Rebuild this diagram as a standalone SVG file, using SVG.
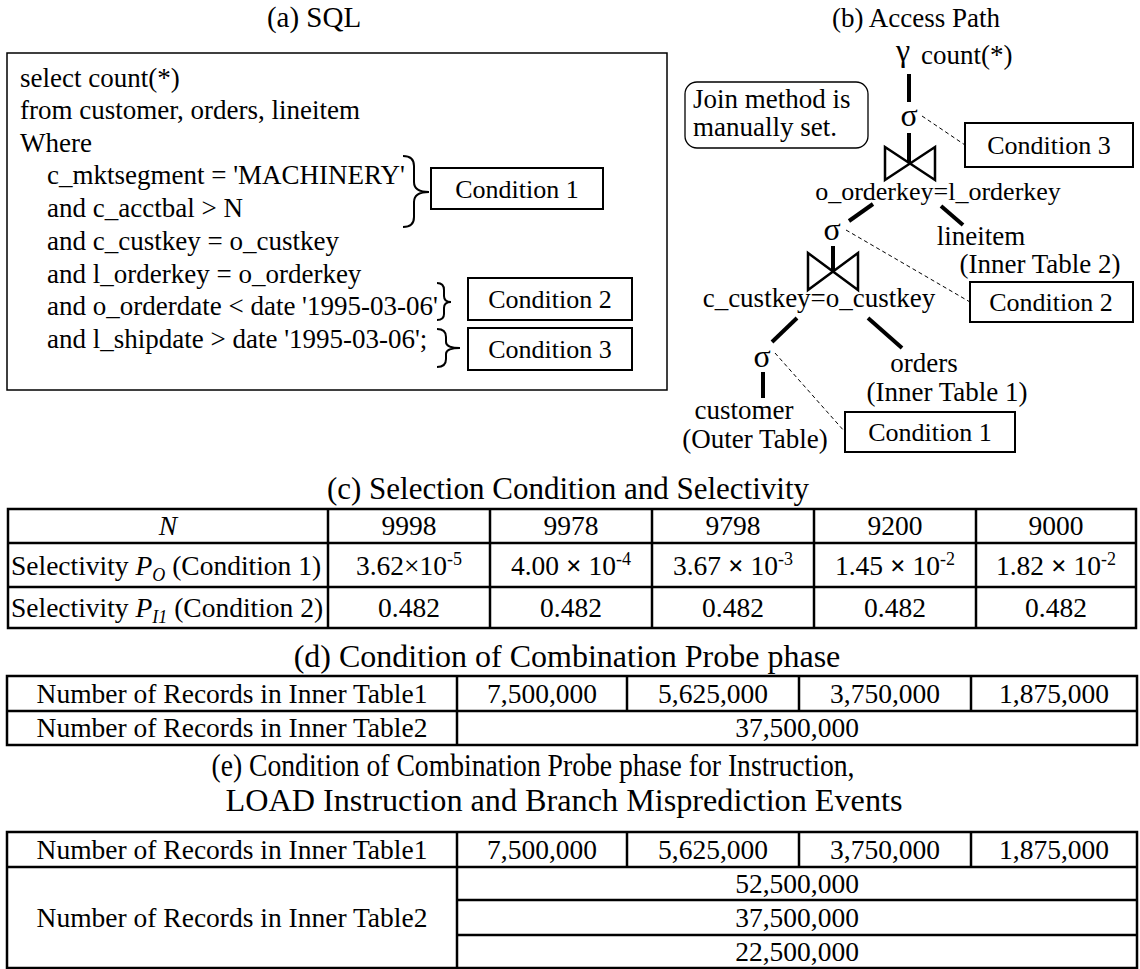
<svg xmlns="http://www.w3.org/2000/svg" width="1140" height="969" viewBox="0 0 1140 969" font-family="'Liberation Serif', 'DejaVu Serif', serif">
  <style>
    text { font-family: 'Liberation Serif', 'DejaVu Serif', serif; fill: #000; }
    .title { text-anchor: middle; }
    .sql { font-size: 27px; }
    .lbl { font-size: 27px; }
    .mid { text-anchor: middle; }
    .cond { font-size: 26px; text-anchor: middle; }
    .cell { font-size: 27.5px; text-anchor: middle; }
    .rowhead { font-size: 27.5px; }
    .box { fill: #fff; stroke: #000; stroke-width: 2; }
    .frame { fill: none; stroke: #000; stroke-width: 1.5; }
    .brace { fill: none; stroke: #000; stroke-width: 2; }
    .edge { stroke: #000; stroke-width: 4; fill: none; }
    .dash { stroke: #000; stroke-width: 1; stroke-dasharray: 4 3; fill: none; }
    .join { fill: none; stroke: #000; stroke-width: 2.5; stroke-linejoin: miter; }
    .grid { stroke: #000; stroke-width: 2.5; fill: none; }
    .it { font-style: italic; }
    .x { font-weight: bold; }
    .sub { font-size: 18px; font-style: italic; }
    .sup { font-size: 18px; }
  </style>

  <!-- section titles -->
  <g id="titles">
    <text class="title" x="314" y="27" style="font-size:29px">(a) SQL</text>
    <text class="title" x="916" y="27" style="font-size:27px">(b) Access Path</text>
    <text class="title" x="568" y="499" style="font-size:31px">(c) Selection Condition and Selectivity</text>
    <text class="title" x="567" y="667" style="font-size:32px">(d) Condition of Combination Probe phase</text>
    <text class="title" x="533" y="776" style="font-size:31px" textLength="643" lengthAdjust="spacingAndGlyphs">(e) Condition of Combination Probe phase for Instruction,</text>
    <text class="title" x="564" y="811" style="font-size:31px" textLength="677" lengthAdjust="spacingAndGlyphs">LOAD Instruction and Branch Misprediction Events</text>
  </g>

  <!-- (a) query text -->
  <g id="sql-query">
    <rect class="frame" x="7" y="53" width="660" height="337"/>
    <text class="sql" x="20" y="87">select count(*)</text>
    <text class="sql" x="20" y="119">from customer, orders, lineitem</text>
    <text class="sql" x="20" y="152">Where</text>
    <text class="sql" x="47" y="184">c_mktsegment = 'MACHINERY'</text>
    <text class="sql" x="47" y="217">and c_acctbal &gt; N</text>
    <text class="sql" x="47" y="250">and c_custkey = o_custkey</text>
    <text class="sql" x="47" y="283">and l_orderkey = o_orderkey</text>
    <text class="sql" x="47" y="315">and o_orderdate &lt; date '1995-03-06'</text>
    <text class="sql" x="47" y="348">and l_shipdate &gt; date '1995-03-06';</text>
    <path class="brace" d="M403,156 Q414,156 414,166 L414,182 Q414,192 429,192 Q414,192 414,202 L414,217 Q414,227 403,227"/>
    <path class="brace" d="M437,283 Q444,283 444,290 L444,296 Q444,302 451,302 Q444,302 444,308 L444,314 Q444,320 437,320"/>
    <path class="brace" d="M437,329 Q446,329 446,337 L446,342 Q446,348 460,348 Q446,348 446,354 L446,359 Q446,367 437,367"/>
  </g>
  <g id="sql-cond1">
    <rect class="box" x="431" y="168" width="172" height="41"/>
    <text class="cond" x="517" y="198">Condition 1</text>
  </g>
  <g id="sql-cond2">
    <rect class="box" x="468" y="278" width="164" height="42"/>
    <text class="cond" x="550" y="308">Condition 2</text>
  </g>
  <g id="sql-cond3">
    <rect class="box" x="468" y="328" width="164" height="42"/>
    <text class="cond" x="550" y="358">Condition 3</text>
  </g>

  <!-- (b) plan tree connectors -->
  <g id="connectors">
    <line class="edge" x1="909" y1="74" x2="909" y2="102"/>
    <line class="edge" x1="909" y1="133" x2="909" y2="163"/>
    <line class="edge" x1="873" y1="204" x2="849" y2="221"/>
    <line class="edge" x1="941" y1="206" x2="963" y2="225"/>
    <line class="edge" x1="833" y1="246" x2="833" y2="272"/>
    <line class="edge" x1="797" y1="318" x2="772" y2="342"/>
    <line class="edge" x1="868" y1="318" x2="902" y2="348"/>
    <line class="edge" x1="763" y1="372" x2="763" y2="398"/>
    <line class="dash" x1="922" y1="116" x2="965" y2="145"/>
    <line class="dash" x1="846" y1="230" x2="970" y2="302"/>
    <line class="dash" x1="775" y1="353" x2="845" y2="432"/>
  </g>

  <!-- (b) plan tree nodes -->
  <g id="aggregate">
    <text class="mid" x="903" y="61" style="font-size:32px">γ</text>
    <text class="lbl" x="921" y="64">count(*)</text>
  </g>
  <g id="note">
    <rect x="685" y="82" width="183" height="66" rx="12" ry="12" fill="#fff" stroke="#000" stroke-width="1.3"/>
    <text class="lbl" x="693" y="108">Join method is</text>
    <text class="lbl" x="693" y="136">manually set.</text>
  </g>
  <g id="select-top">
    <text class="mid" x="909" y="126" style="font-size:32px">σ</text>
  </g>
  <g id="join-orderkey">
    <path class="join" d="M885,147 L935,180 L935,147 L885,180 Z"/>
    <text class="mid" x="938" y="200" style="font-size:26px">o_orderkey=l_orderkey</text>
  </g>
  <g id="lineitem">
    <text class="lbl mid" x="981" y="245">lineitem</text>
    <text class="lbl mid" x="1040" y="273">(Inner Table 2)</text>
  </g>
  <g id="select-mid">
    <text class="mid" x="832" y="240" style="font-size:32px">σ</text>
  </g>
  <g id="join-custkey">
    <path class="join" d="M808,253 L858,290 L858,253 L808,290 Z"/>
    <text class="lbl mid" x="819" y="307">c_custkey=o_custkey</text>
  </g>
  <g id="select-low">
    <text class="mid" x="762" y="367" style="font-size:32px">σ</text>
  </g>
  <g id="orders">
    <text class="lbl mid" x="924" y="372">orders</text>
    <text class="lbl mid" x="947" y="401">(Inner Table 1)</text>
  </g>
  <g id="customer">
    <text class="lbl mid" x="744" y="419">customer</text>
    <text class="lbl mid" x="755" y="448">(Outer Table)</text>
  </g>
  <g id="plan-cond3">
    <rect class="box" x="965" y="123" width="168" height="44"/>
    <text class="cond" x="1049" y="154">Condition 3</text>
  </g>
  <g id="plan-cond2">
    <rect class="box" x="970" y="282" width="163" height="40"/>
    <text class="cond" x="1051" y="311">Condition 2</text>
  </g>
  <g id="plan-cond1">
    <rect class="box" x="845" y="412" width="170" height="40"/>
    <text class="cond" x="930" y="441">Condition 1</text>
  </g>

  <!-- (c) selectivity table -->
  <g id="table-c">
    <rect class="grid" x="8" y="509" width="1128" height="119"/>
    <line class="grid" x1="8" y1="543" x2="1136" y2="543"/>
    <line class="grid" x1="8" y1="587" x2="1136" y2="587"/>
    <line class="grid" x1="328" y1="509" x2="328" y2="628"/>
    <line class="grid" x1="490" y1="509" x2="490" y2="628"/>
    <line class="grid" x1="652" y1="509" x2="652" y2="628"/>
    <line class="grid" x1="814" y1="509" x2="814" y2="628"/>
    <line class="grid" x1="976" y1="509" x2="976" y2="628"/>
    <text class="cell it" x="168" y="535">N</text>
    <text class="cell" x="409" y="535">9998</text>
    <text class="cell" x="571" y="535">9978</text>
    <text class="cell" x="733" y="535">9798</text>
    <text class="cell" x="895" y="535">9200</text>
    <text class="cell" x="1056" y="535">9000</text>
    <text class="rowhead" x="11" y="575">Selectivity <tspan class="it">P</tspan><tspan class="sub" dy="6">O</tspan><tspan dy="-6"> (Condition 1)</tspan></text>
    <text class="cell" x="409" y="575">3.62×10<tspan class="sup" dy="-10">-5</tspan></text>
    <text class="cell" x="571" y="575">4.00 <tspan class="x">×</tspan> 10<tspan class="sup" dy="-10">-4</tspan></text>
    <text class="cell" x="733" y="575">3.67 <tspan class="x">×</tspan> 10<tspan class="sup" dy="-10">-3</tspan></text>
    <text class="cell" x="895" y="575">1.45 <tspan class="x">×</tspan> 10<tspan class="sup" dy="-10">-2</tspan></text>
    <text class="cell" x="1056" y="575">1.82 <tspan class="x">×</tspan> 10<tspan class="sup" dy="-10">-2</tspan></text>
    <text class="rowhead" x="11" y="617">Selectivity <tspan class="it">P</tspan><tspan class="sub" dy="6">I1</tspan><tspan dy="-6"> (Condition 2)</tspan></text>
    <text class="cell" x="409" y="617">0.482</text>
    <text class="cell" x="571" y="617">0.482</text>
    <text class="cell" x="733" y="617">0.482</text>
    <text class="cell" x="895" y="617">0.482</text>
    <text class="cell" x="1056" y="617">0.482</text>
  </g>

  <!-- (d) probe-phase table -->
  <g id="table-d">
    <rect class="grid" x="7" y="676" width="1130" height="69"/>
    <line class="grid" x1="7" y1="711" x2="1137" y2="711"/>
    <line class="grid" x1="457" y1="676" x2="457" y2="745"/>
    <line class="grid" x1="627" y1="676" x2="627" y2="711"/>
    <line class="grid" x1="799" y1="676" x2="799" y2="711"/>
    <line class="grid" x1="971" y1="676" x2="971" y2="711"/>
    <text class="cell" x="232" y="703">Number of Records in Inner Table1</text>
    <text class="cell" x="542" y="703">7,500,000</text>
    <text class="cell" x="713" y="703">5,625,000</text>
    <text class="cell" x="885" y="703">3,750,000</text>
    <text class="cell" x="1054" y="703">1,875,000</text>
    <text class="cell" x="232" y="737">Number of Records in Inner Table2</text>
    <text class="cell" x="797" y="737">37,500,000</text>
  </g>

  <!-- (e) event-measurement table -->
  <g id="table-e">
    <rect class="grid" x="7" y="832" width="1130" height="136"/>
    <line class="grid" x1="7" y1="867" x2="1137" y2="867"/>
    <line class="grid" x1="457" y1="900" x2="1137" y2="900"/>
    <line class="grid" x1="457" y1="935" x2="1137" y2="935"/>
    <line class="grid" x1="457" y1="832" x2="457" y2="968"/>
    <line class="grid" x1="627" y1="832" x2="627" y2="867"/>
    <line class="grid" x1="799" y1="832" x2="799" y2="867"/>
    <line class="grid" x1="971" y1="832" x2="971" y2="867"/>
    <text class="cell" x="232" y="859">Number of Records in Inner Table1</text>
    <text class="cell" x="542" y="859">7,500,000</text>
    <text class="cell" x="713" y="859">5,625,000</text>
    <text class="cell" x="885" y="859">3,750,000</text>
    <text class="cell" x="1054" y="859">1,875,000</text>
    <text class="cell" x="232" y="927">Number of Records in Inner Table2</text>
    <text class="cell" x="797" y="893">52,500,000</text>
    <text class="cell" x="797" y="927">37,500,000</text>
    <text class="cell" x="797" y="961">22,500,000</text>
  </g>
</svg>
